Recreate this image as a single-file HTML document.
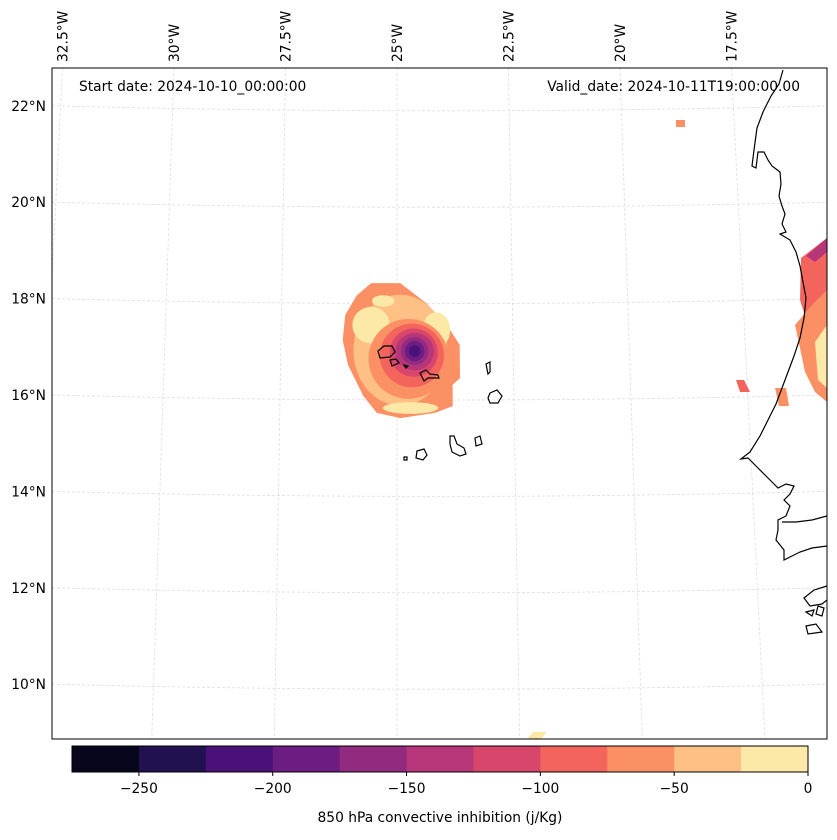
<!DOCTYPE html>
<html><head><meta charset="utf-8"><style>
body{margin:0;background:#fff;font-family:"DejaVu Sans","Liberation Sans",sans-serif;}
svg text{font-family:"DejaVu Sans","Liberation Sans",sans-serif;}
</style></head><body>
<svg id="fig" width="837" height="836" viewBox="0 0 837 836" xmlns="http://www.w3.org/2000/svg">
<defs><clipPath id="mapclip"><rect x="52" y="68" width="775" height="671"/></clipPath></defs>
<rect x="0" y="0" width="837" height="836" fill="#fff"/>
<g id="grid" clip-path="url(#mapclip)"></g>
<g id="field" clip-path="url(#mapclip)"></g>
<g id="coast" clip-path="url(#mapclip)" fill="none" stroke="#000" stroke-width="1.2">
<path d="M783,70 L779,84 L771,96 L763,112 L757,128 L754,150 L752,166 L756,168 L758,152 L764,152 L768,160 L772,166 L780,172 L781,184 L779,196 L782,206 L785,214 L782,224 L786,232 L780,234 L790,240 L796,252 L800,266 L803,282 L806,298 L804,318 L800,338 L794,356 L788,372 L782,388 L776,404 L768,420 L760,436 L750,452 L741,459 L748,458 L756,466 L764,474 L772,482 L778,488 L786,484 L794,486 L790,494 L784,500 L790,506 L786,516 L778,520 L778,530 L776,540 L784,550 L784,560 L792,556 L800,552 L812,548 L827,546"/>
<path d="M827,516 L812,520 L796,522 L782,522 M827,586 L814,590 L804,598 L810,606 L822,604 L827,600"/>
<path d="M806,612 L814,610 L812,616 Z M818,606 L824,608 L822,616 L816,614 Z M806,626 L816,624 L822,632 L808,634 Z"/>
<path d="M378,351 L384,346 L392,346 L395,352 L390,357 L380,358 Z"/>
<path d="M390,360 L396,359 L399,363 L392,366 Z"/>
<path d="M404,365 L408,366 L406,368 Z"/>
<path d="M420,373 L426,370 L430,374 L438,375 L439,378 L428,378 L424,381 Z"/>
<path d="M486,364 L490,362 L490,372 L488,374 Z"/>
<path d="M490,393 L497,390 L502,396 L498,403 L490,403 L488,398 Z"/>
<path d="M450,436 L454,436 L457,444 L464,448 L466,454 L460,456 L452,452 L450,444 Z"/>
<path d="M475,438 L480,436 L482,444 L476,446 Z"/>
<path d="M417,451 L424,449 L427,455 L423,460 L416,458 Z"/>
<path d="M404,457 L407,457 L407,460 L404,460 Z"/>
</g>
<rect x="52" y="68" width="775" height="671" fill="none" stroke="#000" stroke-width="1"/>
<g id="lonlabels" font-size="13.8" fill="#000"></g>
<g id="latlabels" font-size="13.8" fill="#000"></g>
<text x="79" y="91" font-size="13.8">Start date: 2024-10-10_00:00:00</text>
<text x="800" y="91" font-size="13.8" text-anchor="end">Valid_date: 2024-10-11T19:00:00.00</text>
<g id="cbar"></g>
<text x="440" y="822" font-size="13.8" text-anchor="middle">850 hPa convective inhibition (j/Kg)</text>
</svg>
<script>
const levels=[-275,-250,-225,-200,-175,-150,-125,-100,-75,-50,-25,0];
const levelColors=["#07061c","#221150","#4b117a","#6c1d81","#922a80","#b63679","#d8466b","#f3655c","#fc9065","#fec085","#fce9a7"];
const cbTicks=[-250,-200,-150,-100,-50,0];
const lonTicks=["32.5°W","30°W","27.5°W","25°W","22.5°W","20°W","17.5°W"];
const lonVals=[-32.5,-30,-27.5,-25,-22.5,-20,-17.5];
const latTicks=["22°N","20°N","18°N","16°N","14°N","12°N","10°N"];
const latVals=[22,20,18,16,14,12,10];
// outer CIN region boundary (lon, lat), value -60
const outerLon=[-25.56,-24.93,-24.37,-23.92,-23.65,-23.65,-23.81,-23.81,-24.19,-24.93,-25.43,-25.72,-26.05,-26.17,-26.12,-25.87];
const outerLat=[18.32,18.32,17.91,17.45,17.04,16.35,16.21,15.77,15.63,15.52,15.63,15.98,16.62,17.14,17.66,18.07];
const outerVal=-60;
// inner CIN blobs: [lon, lat, radius-lon, radius-lat, value]
const blobLon=[-24.93,-25.56,-24.15,-24.71,-25.3,-24.75,-24.68,-24.64,-24.62,-24.62,-24.62,-24.62];
const blobLat=[16.93,17.45,17.35,15.73,17.95,16.75,16.82,16.88,16.90,16.91,16.91,16.91];
const blobRx=[1.05,0.42,0.31,0.62,0.25,0.9,0.72,0.54,0.43,0.31,0.22,0.13];
const blobRy=[1.15,0.38,0.37,0.12,0.12,0.83,0.66,0.5,0.39,0.29,0.21,0.12];
const blobVal=[-40,-15,-15,-15,-15,-60,-90,-110,-135,-160,-185,-210];
const NS="http://www.w3.org/2000/svg";
function lonX(lon,y){const base=397+(lon+25)*44.6;const t=(y-68)/671;return 397+(base-397)*(1+0.1*t);}
function latY(lat){return 395-(lat-16)*48.2;}
function cbX(v){return 72+(v+275)*(736/275);}
function colorFor(v){for(let i=0;i<levels.length-1;i++){if(v<levels[i+1])return levelColors[i];}return levelColors[levelColors.length-1];}
function mk(tag,attrs,parent){const e=document.createElementNS(NS,tag);for(const k in attrs)e.setAttribute(k,attrs[k]);parent.appendChild(e);return e;}
const grid=document.getElementById('grid');
for(let i=0;i<lonVals.length;i++){const l=mk('line',{x1:lonX(lonVals[i],68),y1:68,x2:lonX(lonVals[i],739),y2:739,stroke:'#ddd','stroke-width':0.8,'stroke-dasharray':'3,2'},grid);

}
for(let i=0;i<latVals.length;i++){const y=latY(latVals[i]);const p=mk('path',{d:`M52,${y} Q440,${y+10} 827,${y}`,fill:'none',stroke:'#ddd','stroke-width':0.8,'stroke-dasharray':'3,2'},grid);

}
const field=document.getElementById('field');
const outerPts=outerLon.map((lo,i)=>{const y=latY(outerLat[i]);return lonX(lo,y)+','+y;}).join(' ');
const op=mk('polygon',{points:outerPts,fill:colorFor(outerVal)},field);


for(let i=0;i<blobVal.length;i++){const cy=latY(blobLat[i]);const cx=lonX(blobLon[i],cy);
const e=mk('ellipse',{cx:cx,cy:cy,rx:blobRx[i]*44.6,ry:blobRy[i]*48.2,fill:colorFor(blobVal[i])},field);

}
// coastal africa patches
const patchPts=["801,258 827,238 827,300 815,320 808,325 800,300","806,256 827,238 827,252 815,262","795,325 812,305 827,290 827,402 815,392 805,372 800,348","815,342 827,325 827,388 818,380","736,380 744,380 750,392 740,392","775,388 786,388 789,406 779,406","676,120 685,120 685,127 676,127","527,739 533,732 547,732 541,739"];
const patchVals=[-100,-140,-60,-15,-90,-70,-70,-15];
for(let i=0;i<patchPts.length;i++){const p=mk('polygon',{points:patchPts[i],fill:colorFor(patchVals[i])},field);

}
const lonL=document.getElementById('lonlabels');
for(let i=0;i<lonTicks.length;i++){const x=lonX(lonVals[i],68)+5;const t=mk('text',{x:0,y:0,transform:`translate(${x},62) rotate(-90)`},lonL);t.textContent=lonTicks[i];

}
const latL=document.getElementById('latlabels');
for(let i=0;i<latTicks.length;i++){const t=mk('text',{x:46,y:latY(latVals[i])+5,'text-anchor':'end'},latL);t.textContent=latTicks[i];

}
const cb=document.getElementById('cbar');
for(let i=0;i<levelColors.length;i++){const r=mk('rect',{x:cbX(levels[i]),y:746,width:cbX(levels[i+1])-cbX(levels[i])+0.5,height:26,fill:levelColors[i]},cb);

}
mk('rect',{x:72,y:746,width:736,height:26,fill:'none',stroke:'#000','stroke-width':1},cb);
for(let i=0;i<cbTicks.length;i++){const x=cbX(cbTicks[i]);mk('line',{x1:x,y1:772,x2:x,y2:776,stroke:'#000'},cb);
const t=mk('text',{x:x,y:793,'text-anchor':'middle','font-size':13.8},cb);t.textContent=cbTicks[i]<0?'\u2212'+Math.abs(cbTicks[i]):String(cbTicks[i]);

}
</script>
</body></html>
